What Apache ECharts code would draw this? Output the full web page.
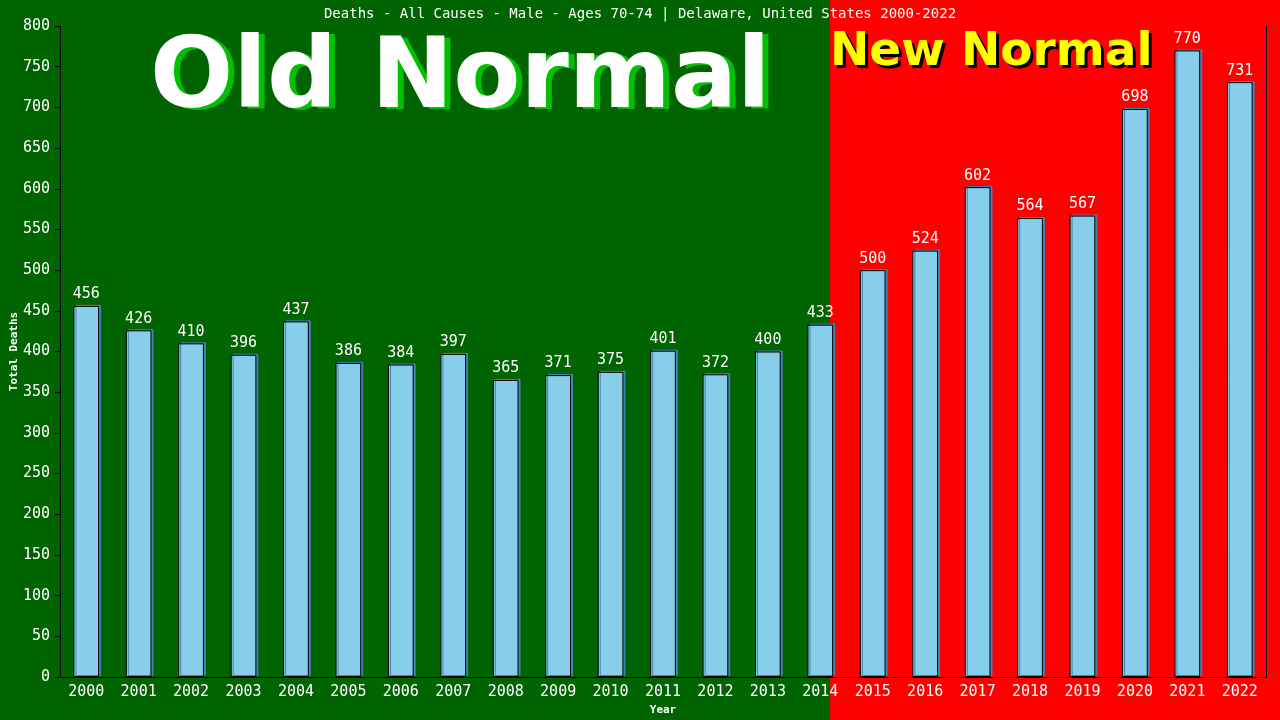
<!DOCTYPE html>
<html>
<head>
<meta charset="utf-8">
<script src="https://cdn.jsdelivr.net/npm/echarts@6/dist/echarts.min.js"></script>
<style>
  html, body { margin: 0; padding: 0; }
  #chart { width: 1280px; height: 720px; }
</style>
</head>
<body>
<div id="chart"></div>
<script>
var years = ["2000", "2001", "2002", "2003", "2004", "2005", "2006", "2007", "2008", "2009", "2010", "2011",
  "2012", "2013", "2014", "2015", "2016", "2017", "2018", "2019", "2020", "2021", "2022"]
var deaths = [456, 426, 410, 396, 437, 386, 384, 397, 365, 371, 375, 401,
  372, 400, 433, 500, 524, 602, 564, 567, 698, 770, 731]
var titleText = "Deaths - All Causes - Male - Ages 70-74 | Delaware, United States 2000-2022"

var mono = "'DejaVu Sans Mono', monospace"

const chart = echarts.init(document.getElementById("chart"))

// big banner text drawn twice: offset copy as the drop shadow
function banner(text, x, y, size, fill, shade, dx, dy) {
  var font = "bold " + size + "px 'DejaVu Sans'"
  return [
    { type: "text", x: x + dx, y: y + dy, z: -6, style: { text: text, fill: shade, font: font, verticalAlign: "middle" } },
    { type: "text", x: x, y: y, z: -5, style: { text: text, fill: fill, font: font, verticalAlign: "middle" } },
  ]
}

var option = {
  backgroundColor: "#006400",
  animation: false,
  title: {
    text: titleText,
    left: "center",
    top: 2,
    textStyle: { color: "#fff", fontFamily: mono, fontSize: 14, fontWeight: "normal" },
  },
  graphic: [
    { type: "rect", left: 0, top: 0, z: -10, shape: { width: 830, height: 720 }, style: { fill: "#006400" } },
    { type: "rect", left: 830, top: 0, z: -10, shape: { width: 450, height: 720 }, style: { fill: "#ff0000" } },
  ]
    .concat(banner("Old Normal", 150, 82, 98, "#fff", "#00c000", 6, 2))
    .concat(banner("New Normal", 830, 53, 47, "#ffff00", "#000", 3, 3)),
  grid: { left: 60, right: 14, top: 26, bottom: 43, outerBoundsMode: "none" },
  xAxis: {
    type: "category",
    data: years,
    name: "Year",
    nameLocation: "middle",
    nameGap: 28,
    nameMoveOverlap: false,
    nameTextStyle: { color: "#fff", fontFamily: mono, fontSize: 11, fontWeight: "bold" },
    axisLine: { lineStyle: { color: "#000", width: 1 } },
    axisTick: { show: false },
    axisLabel: { color: "#fff", fontFamily: mono, fontSize: 15, margin: 8 },
  },
  yAxis: [
    {
      type: "value",
      min: 0,
      max: 800,
      interval: 50,
      name: "Total Deaths",
      nameLocation: "middle",
      nameGap: 40,
      nameMoveOverlap: false,
      nameTextStyle: { color: "#fff", fontFamily: mono, fontSize: 11, fontWeight: "bold" },
      axisLine: { show: true, lineStyle: { color: "#000", width: 1 } },
      axisTick: { show: true, length: 5, lineStyle: { color: "#000" } },
      axisLabel: { color: "#fff", fontFamily: mono, fontSize: 15, margin: 10 },
      splitLine: { show: false },
    },
    {
      type: "value",
      min: 0,
      max: 800,
      interval: 50,
      position: "right",
      axisLine: { show: true, lineStyle: { color: "#000", width: 1 } },
      axisTick: { show: false },
      axisLabel: { show: false },
      splitLine: { show: false },
    },
  ],
  series: [
    {
      type: "bar",
      data: deaths,
      barWidth: "49%",
      itemStyle: {
        color: "#87ceeb",
        borderColor: "#000",
        borderWidth: 1,
        shadowColor: "#4682b4",
        shadowOffsetX: 2,
        shadowOffsetY: -1,
        shadowBlur: 0,
      },
      label: {
        show: true,
        position: "top",
        distance: 4,
        color: "#fff",
        fontFamily: mono,
        fontSize: 15,
      },
    },
  ],
}

chart.setOption(option)
</script>
</body>
</html>
